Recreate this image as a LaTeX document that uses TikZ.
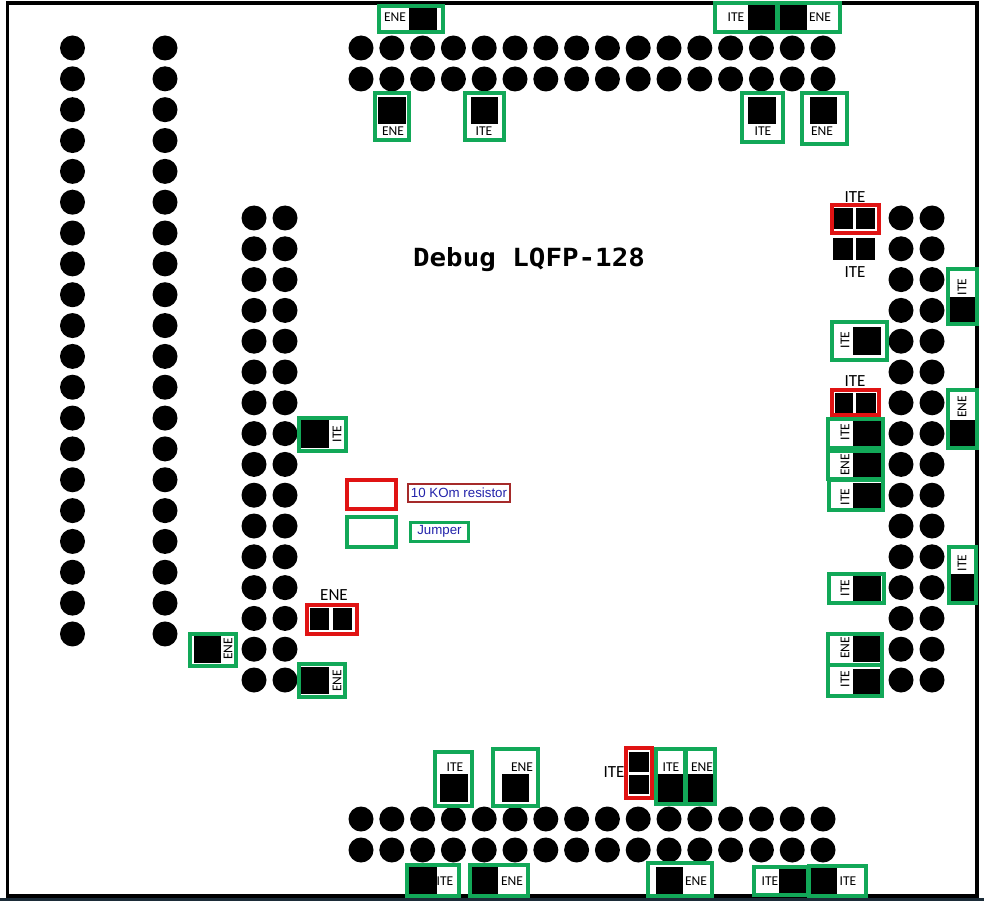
\documentclass[tikz,border=0pt]{standalone}
\usepackage{fontspec}
\setmainfont{Liberation Sans}
\newfontfamily\labelfont{Carlito}
\newfontfamily\titlefont[FakeStretch=1.1]{DejaVu Sans Mono}
\definecolor{jumpergreen}{HTML}{12A858}
\definecolor{resistorred}{HTML}{E01313}
\definecolor{legendblue}{HTML}{2222AA}
\definecolor{legendbrown}{HTML}{A52A2A}
\definecolor{taskbar}{HTML}{1C2C38}

\begin{document}
\begin{tikzpicture}[
    x=1pt, y=-1pt,
    % round solder pads
    mypad/.style={
        circle,
        fill=black,
        inner sep=0pt,
        minimum size=25pt
        },
    % frames around the jumper positions
    jumperbox/.style={draw=jumpergreen, line width=4pt},
    resistorbox/.style={draw=resistorred, line width=4pt},
    % black contact blocks
    myblock/.style={fill=black},
    % texts
    mylabel/.style={font=\labelfont\fontsize{13.5}{14}\selectfont, inner sep=0pt},
    biglabel/.style={font=\labelfont\fontsize{17}{18}\selectfont, inner sep=0pt},
    legendtext/.style={font=\fontsize{13.3}{14}\selectfont, text=legendblue, inner sep=0pt}
    ]
    \useasboundingbox (0,0) rectangle (984,901);
    % ========== board outline ==========
    \fill [taskbar] (0,898) rectangle (984,901);
    \draw [line width=3.5pt] (7.5,3) rectangle (977,896);

    % ========== pads ==========
    \foreach \name/\x in {a/72.5, b/165} {
        \foreach \i in {0,...,19} {
            \node [mypad] (\name\i) at (\x, {48+\i*30.84}) {};
        }
    }
    \foreach \name/\x in {c/254, d/285, e/901, f/932} {
        \foreach \i in {0,...,15} {
            \node [mypad] (\name\i) at (\x, {218+\i*30.8}) {};
        }
    }
    \foreach \name/\y in {g/48, h/79, j/819, k/850} {
        \foreach \i in {0,...,15} {
            \node [mypad] (\name\i) at ({361+\i*30.8}, \y) {};
        }
    }

    % ========== black blocks ==========
    \foreach \xa/\ya/\xb/\yb in {
        409/8/437/31, 748/5/775/30, 780/5/807/30,
        378/97/406/124, 471/97/498/124, 748/97/776/124, 810/97/837/124,
        833/208/853/229, 856/208/875/229, 833/238/853/260, 856/238/875/260,
        949/297/975/323, 853/327/881/355,
        835/393/853/414, 856/393/876/414, 950/420/975/447,
        853/421/881/446, 853/452/881/477, 853/483/881/508,
        951/574/974/601, 853/576/881/601, 853/636/880/662, 853/669/880/694,
        301/420/329/448, 194/636/221/663, 301/667/329/694,
        310/608/329/630, 333/608/352/630,
        440/774/468/802, 502/774/529/802,
        629/752/649/772, 629/775/649/794,
        658/774/683/802, 687/774/714/802,
        409/867/437/894, 472/867/498/894, 656/867/683/894,
        779/869/806/893, 811/868/837/894} {
        \fill [myblock] (\xa,\ya) rectangle (\xb,\yb);
    }

    % ========== frames ==========
    \foreach \xa/\ya/\xb/\yb in {
        379/6/443/32, 715/3/777/32, 778/3/840/32,
        375/93/409/140, 465/93/504/140, 742/93/783/142, 802/93/847/144,
        948/269/977/324, 832/322/887/360, 948/390/977/448,
        828/419/883/448, 828/451/883/479, 829/480/883/510,
        949/547/976/603, 829/574/884/603, 828/634/882/665, 828/665/882/696,
        299/418/346/451, 190/634/236/666, 299/664/345/697,
        347/517/396/547,
        435/752/472/806, 493/749/538/806, 656/749/685/804, 686/749/715/804,
        407/865/459/896, 470/865/528/896, 648/863/712/896,
        754/867/808/895, 809/866/866/896} {
        \draw [jumperbox] (\xa,\ya) rectangle (\xb,\yb);
    }
    \foreach \xa/\ya/\xb/\yb in {
        832/205/879/233, 832/390/879/415, 307/605/357/634, 626/748/652/798,
        347/480/396/509} {
        \draw [resistorbox] (\xa,\ya) rectangle (\xb,\yb);
    }

    % ========== labels ==========
    \foreach \x/\y/\txt in {
        395/17/ENE, 736/17/ITE, 820/17/ENE,
        393/131/ENE, 484/131/ITE, 763/131/ITE, 822/131/ENE,
        455/767/ITE, 522/767/ENE, 671/767/ITE, 702/767/ENE,
        445/881/ITE, 512/881/ENE, 696/881/ENE, 770/881/ITE, 848/881/ITE} {
        \node [mylabel] at (\x,\y) {\txt};
    }
    \foreach \x/\y/\txt in {
        962/287/ITE, 845/340/ITE, 962/407/ENE,
        845/432/ITE, 845/465/ENE, 845/497/ITE,
        962/563/ITE, 845/588/ITE, 845/648/ENE, 845/679/ITE,
        337/434/ITE, 228/649/ENE, 337/681/ENE} {
        \node [mylabel, rotate=90] at (\x,\y) {\txt};
    }
    \foreach \x/\y/\txt in {855/197/ITE, 855/272/ITE, 855/381/ITE, 334/595/ENE, 614/772/ITE} {
        \node [biglabel] at (\x,\y) {\txt};
    }

    % ========== title and legend ==========
    \node [font=\titlefont\bfseries\fontsize{25}{26}\selectfont, inner sep=0pt] (title) at (529,260) {Debug LQFP-128};
    \node [legendtext, draw=legendbrown, line width=2pt, minimum width=102pt, minimum height=18pt] (resistorlegend) at (459,493) {10 KOm resistor};
    \node [legendtext, draw=jumpergreen, line width=3pt, minimum width=58pt, minimum height=19pt] (jumperlegend) at (439.5,531.5) {Jumper};
\end{tikzpicture}
\end{document}
